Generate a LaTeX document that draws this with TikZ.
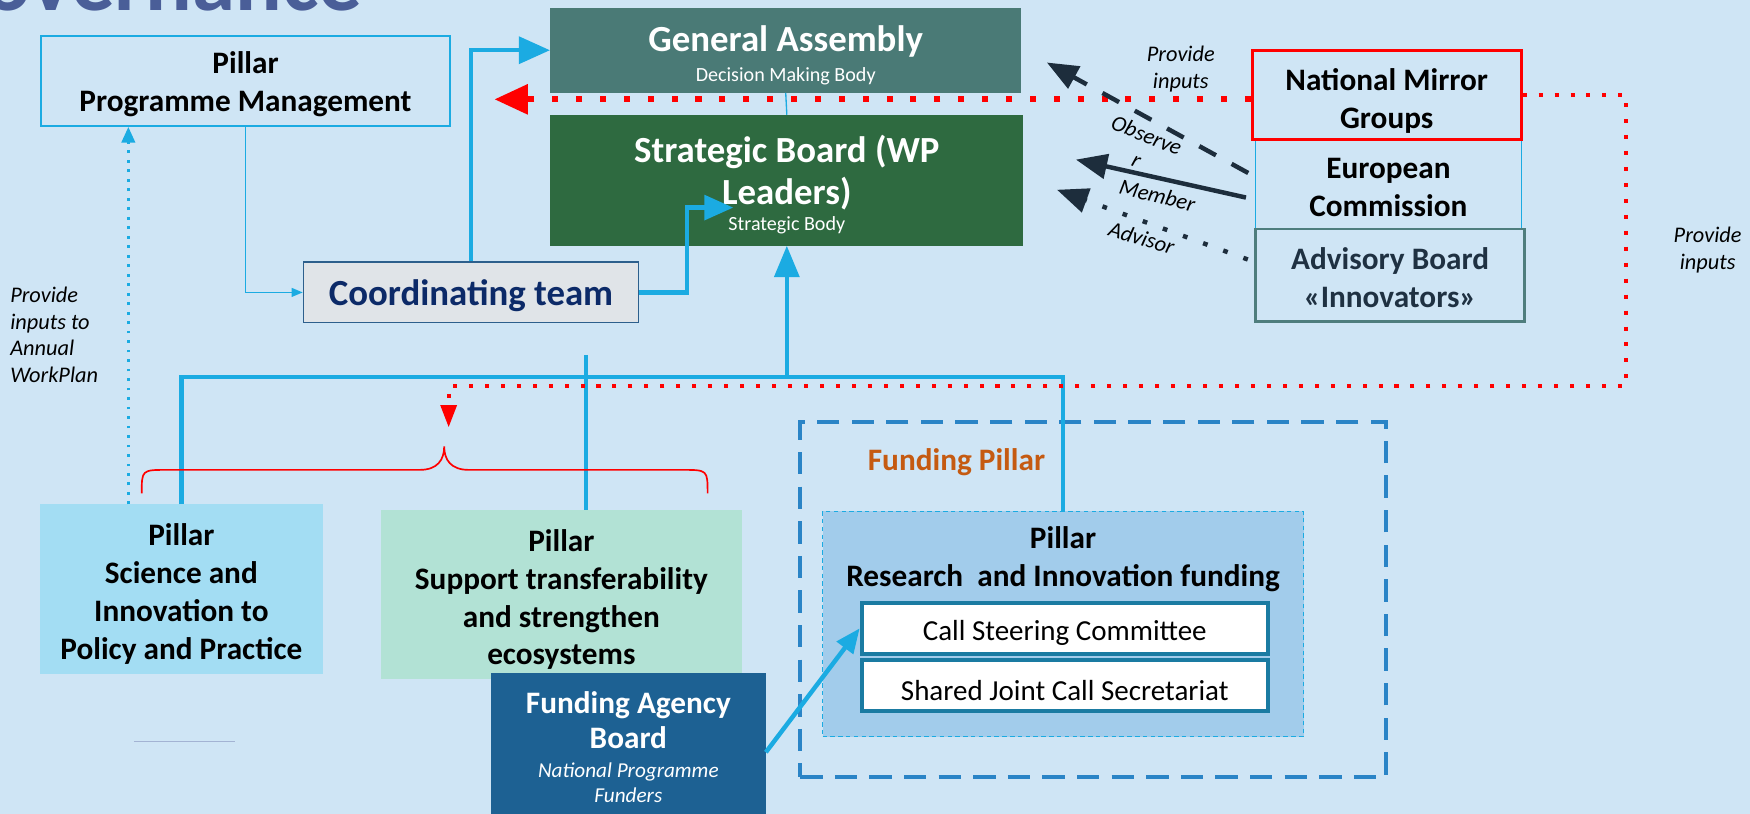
\documentclass[tikz,border=0pt]{standalone}
\usepackage{fontspec}
\setmainfont{Carlito}
\usetikzlibrary{arrows.meta, calc}

\definecolor{bg}{HTML}{CFE5F5}
\definecolor{skyline}{HTML}{1BABE2}
\definecolor{gacol}{HTML}{4A7A76}
\definecolor{sbcol}{HTML}{2E6A40}
\definecolor{ctfill}{HTML}{E0E4E8}
\definecolor{ctdraw}{HTML}{2D5F8C}
\definecolor{cttext}{HTML}{0C2A68}
\definecolor{scifill}{HTML}{A3DDF3}
\definecolor{supfill}{HTML}{B2E2D5}
\definecolor{fabfill}{HTML}{1D6193}
\definecolor{fpdash}{HTML}{2A84C6}
\definecolor{fundfill}{HTML}{A2CCEB}
\definecolor{cscdraw}{HTML}{1A7BA2}
\definecolor{navyarr}{HTML}{1D2D3C}
\definecolor{abdraw}{HTML}{4E7D7D}
\definecolor{abtext}{HTML}{1F3142}
\definecolor{titleblue}{HTML}{4A5E98}
\definecolor{orangetxt}{HTML}{C55A11}
\definecolor{rulegray}{HTML}{A3B3D3}

\newcommand{\fsz}[2]{\fontsize{#1}{#2}\selectfont}
\newcommand{\padtop}[1]{\rule{0pt}{#1}}

\tikzset{
  box/.style={inner sep=0pt, align=center, font=\bfseries\fsz{28}{34}},
  bus/.style={skyline, line width=4pt},
  reddotbig/.style={red, line width=5.4pt, dash pattern=on 5.4pt off 16pt},
  reddot/.style={red, line width=3.6pt, dash pattern=on 3.6pt off 10.7pt},
  navy/.style={navyarr, line width=4pt, -{Triangle[length=28pt,width=22pt]}},
  note/.style={inner sep=0pt, align=center, font=\itshape\fsz{20}{24}}
}

\begin{document}
\begin{tikzpicture}[x=1pt, y=-1pt]
    \useasboundingbox (0,0) rectangle (1568,729);
    \fill [bg] (0,0) rectangle (1568,729);
    \clip (0,0) rectangle (1568,729);
    \node [anchor=base east, inner sep=0pt, text=titleblue, font=\bfseries\fsz{78}{80}] (title) at (325,9) {Governance};

    \node [box, draw=skyline, line width=1.5pt, minimum width=366pt, minimum height=81pt] (pm) at (220,72.5) {\padtop{25pt}Pillar\\Programme Management};
    \node [box, fill=gacol, text=white, font=\bfseries\fsz{33}{27}, minimum width=422pt, minimum height=76pt] (ga) at (704,45)
        {\padtop{32pt}General Assembly\\{\normalfont\fsz{18}{27}Decision Making Body}};
    \node [box, fill=sbcol, text=white, font=\bfseries\fsz{33}{37}, minimum width=424pt, minimum height=117pt] (sb) at (705,161.5)
        {\padtop{33pt}Strategic Board (WP\\Leaders)\\[-13pt]{\normalfont\fsz{18}{27}Strategic Body}};
    \node [box, fill=ctfill, draw=ctdraw, line width=1.5pt, text=cttext, font=\bfseries\fsz{33}{36}, minimum width=300pt, minimum height=54pt] (ct) at (422,262) {\padtop{29pt}Coordinating team};

    \node [box, draw=skyline, line width=1.2pt, minimum width=238pt, minimum height=80pt] (ec) at (1244,165) {\padtop{24pt}European\\Commission};
    \node [box, draw=red, line width=2.5pt, minimum width=241pt, minimum height=80pt] (nmg) at (1242.5,85) {\padtop{30pt}National Mirror\\Groups};
    \node [box, draw=abdraw, line width=2pt, text=abtext, minimum width=241pt, minimum height=83pt] (ab) at (1245.5,246.5) {\padtop{24pt}Advisory Board\\«Innovators»};

    \node [box, fill=scifill, minimum width=253pt, minimum height=152pt] (sci) at (162.5,528) {\padtop{28pt}Pillar\\Science and\\Innovation to\\Policy and Practice};
    \node [box, fill=supfill, minimum width=324pt, minimum height=151pt] (sup) at (503,532.5) {\padtop{29pt}Pillar\\Support transferability\\and strengthen\\ecosystems};

    \node [draw=fpdash, line width=3.5pt, dash pattern=on 20pt off 11pt, minimum width=525pt, minimum height=318pt, inner sep=0pt] (fp) at (979.5,537) {};
    \node [box, text=orangetxt] (fplbl) at (857,414) {Funding Pillar};
    \node [fill=fundfill, draw=skyline, line width=1pt, dash pattern=on 4pt off 3pt, minimum width=431pt, minimum height=202pt, inner sep=0pt] (fund) at (952.5,559) {};
    \node [box] (fundlbl) at (952.5,501) {Pillar\\Research~ and Innovation funding};
    \node [box, fill=white, draw=cscdraw, line width=3.5pt, font=\fsz{26}{30}, minimum width=364pt, minimum height=46pt] (csc) at (954,563) {\padtop{27pt}Call Steering Committee};
    \node [box, fill=white, draw=cscdraw, line width=3.5pt, font=\fsz{26}{30}, minimum width=364pt, minimum height=46pt] (sjcs) at (954,614) {\padtop{27pt}Shared Joint Call Secretariat};

    \node [box, fill=fabfill, text=white, font=\bfseries\fsz{28}{31}, minimum width=246pt, minimum height=142pt] (fab) at (563,674)
        {Funding Agency\\Board\\[-5pt]{\normalfont\itshape\fsz{19}{22}National Programme}\\[-8pt]{\normalfont\itshape\fsz{19}{22}Funders\rule[-9pt]{0pt}{9pt}}};

    \node [note, align=left, anchor=west] (wplbl) at (9,300) {Provide\\inputs to\\Annual\\WorkPlan};
    \node [note] (inplbl) at (1058,62) {Provide\\inputs};
    \node [note] (inprlbl) at (1530,224) {Provide\\inputs};
    \node [note, rotate=-22] (obslbl) at (1023,132) {Observe\\r};
    \node [note, rotate=-14] (memlbl) at (1037,175) {Member};
    \node [note, rotate=-17] (advlbl) at (1023,213) {Advisor};

    \draw [rulegray, line width=1pt] (120,664) -- (211,664);

    \coordinate (sbin) at (657,186);
    \coordinate (hub) at (sb.south |- 0,338);
    \coordinate (stub) at (525,318);
    \coordinate (wp) at (115,0);
    \coordinate (gain) at (443,89);
    \coordinate (loopr) at (1457,346);
    \coordinate (bracein) at (402,383);
    \coordinate (obstip) at (938,56);
    \coordinate (memtip) at (964,143);
    \coordinate (advtip) at (947,170);

    \draw [skyline, line width=1.2pt, -{Triangle[length=10pt,width=8pt]}] (pm.south) |- (ct.west);
    \draw [skyline, line width=1.2pt] (ga.south) -- (sb.north);
    \draw [bus, -{Triangle[length=28pt,width=24pt]}] (ct.north) |- (ga.west);
    \draw [bus, -{Triangle[length=26pt,width=22pt]}] (ct.east) -- ++(43,0) |- (sbin);
    \draw [bus, -{Triangle[length=28pt,width=22pt]}] (sci.north) |- (hub) -- (sb.south);
    \draw [bus] (hub) -| (fund.north);
    \draw [bus] (stub) -- (stub |- sup.north);
    \draw [bus, -{Triangle[length=22pt,width=18pt]}] (fab.east) -- (csc.west);
    \draw [skyline, line width=2.5pt, dash pattern=on 2.5pt off 6pt, -{Triangle[length=14pt,width=12pt]}] (sci.north -| wp) -- (pm.south -| wp);

    \draw [reddotbig, -{Triangle[length=30pt,width=26pt]}] (nmg.west |- gain) -- (gain);
    \draw [reddot, -{Triangle[length=20pt,width=14pt]}] (nmg.east) -| (loopr) -| (bracein);
    \draw [red, line width=1.5pt] (127,442) .. controls (127,421) .. (150,421) -- (376,421)
        .. controls (392,421) and (398,412) .. (398,400) .. controls (398,412) and (404,421) .. (420,421)
        -- (611,421) .. controls (634,421) .. (634,442);

    \draw [navy, dash pattern=on 17pt off 16pt] ([xshift=-6pt,yshift=10pt]ec.west) -- (obstip);
    \draw [navy] ([xshift=-8pt,yshift=-12pt]ec.west) -- (memtip);
    \draw [navy, dash pattern=on 4.2pt off 15pt] ([xshift=-6pt,yshift=14pt]ab.west) -- (advtip);
\end{tikzpicture}
\end{document}
